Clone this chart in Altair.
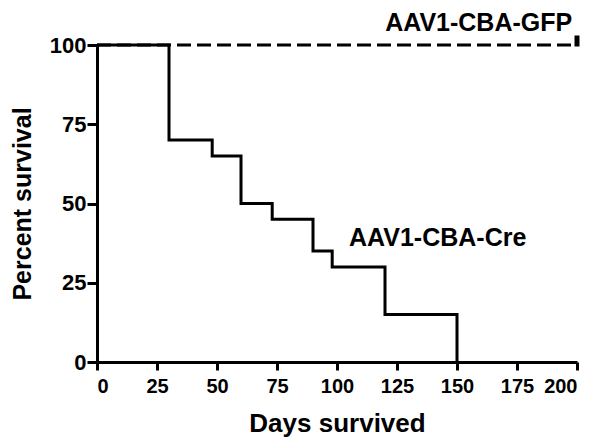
import altair as alt
import pandas as pd

# Kaplan-Meier data
cre_days = [0, 30, 48, 60, 73, 90, 98, 120, 150]
cre_surv = [100, 70, 65, 50, 45, 35, 30, 15, 0]
gfp_days = [0, 200]
gfp_surv = [100, 100]
censor_days = [200]
censor_surv = [100]
label_text = ["AAV1-CBA-GFP", "AAV1-CBA-Cre"]
label_day = [198, 105]
label_surv = [107, 39]
label_align = ["right", "left"]

x_ticks = [0, 25, 50, 75, 100, 125, 150, 175, 200]
y_ticks = [0, 25, 50, 75, 100]

cre = pd.DataFrame({"day": cre_days, "surv": cre_surv})
gfp = pd.DataFrame({"day": gfp_days, "surv": gfp_surv})
cens = pd.DataFrame({"day": censor_days, "surv": censor_surv})
labels = pd.DataFrame({"t": label_text, "day": label_day, "surv": label_surv, "al": label_align})

FONT = "Liberation Sans"

xs = alt.Scale(domain=[0, 200], nice=False, zero=False)
ys = alt.Scale(domain=[0, 100], nice=False)

xax = alt.Axis(values=x_ticks, title="Days survived", grid=False, labelFontSize=20,
               tickSize=8, labelPadding=6, titleFontSize=26, titlePadding=14)
yax = alt.Axis(values=y_ticks, title="Percent survival", grid=False, labelFontSize=22,
               tickSize=10, labelPadding=1, titleFontSize=25, titlePadding=14)

gfp_line = alt.Chart(gfp).mark_line(color="black", strokeWidth=3, strokeDash=[14, 6]).encode(
    x=alt.X("day:Q", scale=xs, axis=xax),
    y=alt.Y("surv:Q", scale=ys, axis=yax),
)
cre_line = alt.Chart(cre).mark_line(color="black", strokeWidth=3, interpolate="step-after").encode(
    x=alt.X("day:Q", scale=xs),
    y=alt.Y("surv:Q", scale=ys),
)
tick = alt.Chart(cens).mark_tick(color="black", opacity=1, size=11, thickness=5, yOffset=-4).encode(
    x=alt.X("day:Q", scale=xs),
    y=alt.Y("surv:Q", scale=ys),
)
lab_gfp = alt.Chart(labels[labels.al == "right"]).mark_text(
    font=FONT, fontSize=25, fontWeight="bold", align="right", baseline="middle", color="black"
).encode(x=alt.X("day:Q", scale=xs), y=alt.Y("surv:Q", scale=ys), text="t:N")
lab_cre = alt.Chart(labels[labels.al == "left"]).mark_text(
    font=FONT, fontSize=25, fontWeight="bold", align="left", baseline="middle", color="black"
).encode(x=alt.X("day:Q", scale=xs), y=alt.Y("surv:Q", scale=ys), text="t:N")

chart = alt.layer(gfp_line, cre_line, tick, lab_gfp, lab_cre).properties(
    width=480, height=317,
    autosize=alt.AutoSizeParams(type="none"),
    padding={"left": 89, "top": 37, "right": 12, "bottom": 75},
).configure_view(stroke=None).configure_axis(
    domainColor="black", domainWidth=3, tickColor="black", tickWidth=3,
    labelFont=FONT, labelFontWeight="bold", labelColor="black",
    titleFont=FONT, titleFontWeight="bold", titleColor="black",
)

chart.save("out.html", embed_options={"renderer": "svg", "actions": False})
